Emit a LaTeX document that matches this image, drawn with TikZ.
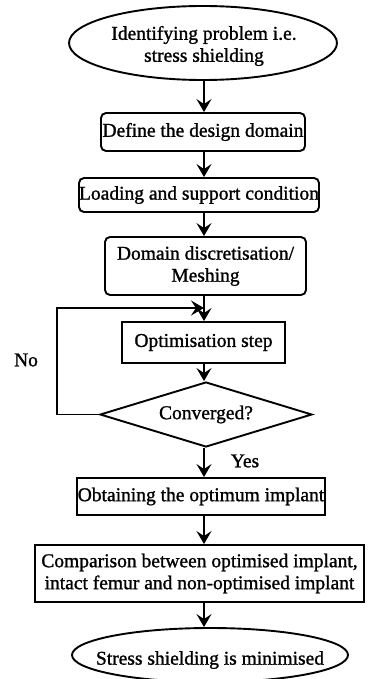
\documentclass[tikz,border=0pt]{standalone}
\usepackage{fontspec}
\setmainfont{Liberation Serif}[FakeBold=1.2]
\usetikzlibrary{shapes.geometric,arrows.meta,calc}
\begin{document}
\begin{tikzpicture}[x=1pt, y=-1pt, line width=1.9pt,
  every node/.style={font=\fontsize{19.5pt}{22pt}\selectfont, inner sep=0pt, align=center},
  oval/.style={draw, ellipse, inner sep=0pt},
  roundbox/.style={draw, rounded corners=5pt},
  plainbox/.style={draw},
  decision/.style={draw, diamond, inner sep=0pt},
  arr/.style={-{Stealth[length=13pt, width=15pt, inset=5pt]}}]
  \useasboundingbox (0,0) rectangle (368,679);

  % main axis of the flow
  \coordinate (axis) at (204,0);

  % start
  \node[oval, minimum width=268pt, minimum height=74pt] (e1) at (203,43) {};
  \node (t1) at (204,46) {Identifying problem i.e.\\stress shielding};

  % process steps
  \node[roundbox, minimum width=204pt, minimum height=38pt] (b1) at (203,132) {Define the design domain};
  \node[roundbox, minimum width=240pt, minimum height=34pt] (b2) at (199,195) {Loading and support condition};
  \node[roundbox, minimum width=201pt, minimum height=58pt] (b3) at (205.5,266) {Domain discretisation/\\Meshing};
  \node[plainbox, minimum width=163pt, minimum height=41pt] (b4) at (203.5,342.5) {Optimisation step};

  % convergence check
  \node[decision, minimum width=212pt, minimum height=65pt] (d) at (206,414.5) {};
  \node (dt) at (206,414.5) {Converged?};

  \node[plainbox, minimum width=248pt, minimum height=37pt] (b5) at (201,496.5) {Obtaining the optimum implant};
  \node[plainbox, minimum width=329pt, minimum height=57pt] (b6) at (199.5,573.5) {Comparison between optimised implant,\\intact femur and non-optimised implant};

  % end
  \node[oval, minimum width=276pt, minimum height=54pt] (e2) at (210,655) {};
  \node (t2) at (210,660) {Stress shielding is minimised};

  % connectors
  \draw[arr] (axis |- e1.south) -- (axis |- b1.north);
  \draw[arr] (axis |- b1.south) -- (axis |- b2.north);
  \draw[arr] (axis |- b2.south) -- (axis |- b3.north);
  \draw[arr] (axis |- b3.south) -- (axis |- b4.north);
  \draw[arr] (axis |- b4.south) -- (axis |- d.north);
  \draw[arr] (axis |- d.south) -- (axis |- b5.north);
  \draw[arr] (axis |- b5.south) -- (axis |- b6.north);
  \draw[arr] (axis |- b6.south) -- (axis |- e2.north);

  % feedback loop
  \coordinate (lp) at (57,308);
  \draw[arr] (d.west) -| (lp) -- (axis |- lp);

  \node (no) at (26,360) {No};
  \node (yes) at (245,461) {Yes};
\end{tikzpicture}
\end{document}
